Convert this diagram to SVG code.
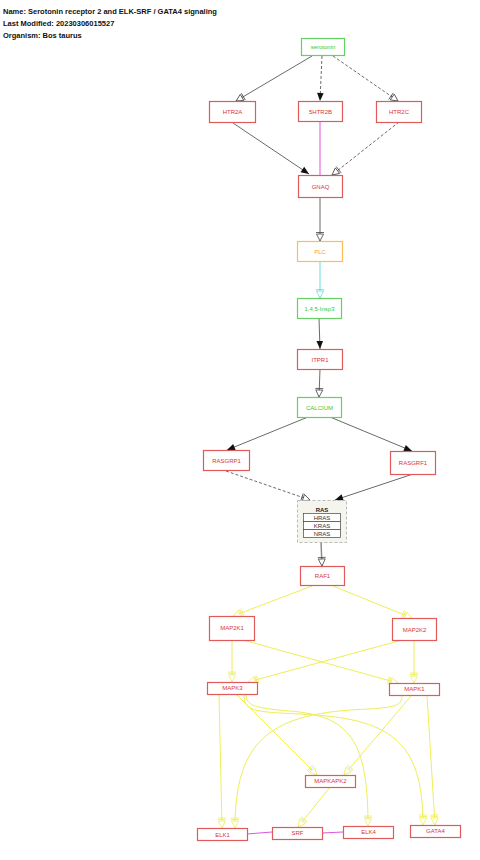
<svg xmlns="http://www.w3.org/2000/svg" width="480" height="860" viewBox="0 0 480 860">
<style>
.t{font-family:"Liberation Sans",Arial,sans-serif;font-size:6px;text-anchor:middle;dominant-baseline:central}
.h{font-family:"Liberation Sans",Arial,sans-serif;font-size:7.5px;font-weight:bold;fill:#111}
.nr{fill:#fff;stroke:#e05a5a;stroke-width:1.2}
.tr{fill:#dd3333}
.ng{fill:#fff;stroke:#66d066;stroke-width:1.2}
.tg{fill:#33cc33}
.no{fill:#fff;stroke:#ffbb55;stroke-width:1.2}
.to{fill:#ff9933}
.e{fill:none;stroke:#444;stroke-width:0.8}
.d{stroke-dasharray:3,2}
.y{fill:none;stroke:#eeee55;stroke-width:1}
.m{fill:none;stroke:#dd55dd;stroke-width:1}
.c{fill:none;stroke:#66dddd;stroke-width:1}
</style>
<defs>
<marker id="ob" markerUnits="userSpaceOnUse" markerWidth="13" markerHeight="10" refX="11" refY="5" orient="auto" overflow="visible">
<path d="M4,1.5 L11,5 L4,8.5 Z" fill="#fff" stroke="#444" stroke-width="0.8"/>
<path d="M2.5,1 L2.5,9" stroke="#444" stroke-width="0.8"/>
</marker>
<marker id="oy" markerUnits="userSpaceOnUse" markerWidth="13" markerHeight="10" refX="11" refY="5" orient="auto" overflow="visible">
<path d="M4,1.5 L11,5 L4,8.5 Z" fill="#fff" stroke="#eeee55" stroke-width="0.8"/>
<path d="M2.5,1 L2.5,9 M1,1 L1,9" stroke="#eeee55" stroke-width="0.8"/>
</marker>
<marker id="oc" markerUnits="userSpaceOnUse" markerWidth="13" markerHeight="10" refX="11" refY="5" orient="auto" overflow="visible">
<path d="M4,1.5 L11,5 L4,8.5 Z" fill="#fff" stroke="#66dddd" stroke-width="0.8"/>
<path d="M2.5,1 L2.5,9" stroke="#66dddd" stroke-width="0.8"/>
</marker>
<marker id="fa" markerUnits="userSpaceOnUse" markerWidth="10" markerHeight="8" refX="8" refY="4" orient="auto" overflow="visible">
<path d="M0,0.7 L8,4 L0,7.3 Z" fill="#111"/>
</marker>
</defs>
<text class="h" x="3" y="14">Name: Serotonin receptor 2 and ELK-SRF / GATA4 signaling</text>
<text class="h" x="3" y="26">Last Modified: 20230306015527</text>
<text class="h" x="3" y="38">Organism: Bos taurus</text>
<g id="connectors">
<path class="e" d="M312,56 L236,101" marker-end="url(#ob)"/>
<path class="e d" d="M322,56 L320,101" marker-end="url(#fa)"/>
<path class="e d" d="M333,56 L398,101" marker-end="url(#ob)"/>
<path class="e" d="M233,123 L309,174" marker-end="url(#fa)"/>
<path class="m" d="M320,121 L320,175"/>
<path class="e d" d="M399,122 L332,175" marker-end="url(#ob)"/>
<path class="e" d="M320,197 L320,241" marker-end="url(#ob)"/>
<path class="c" d="M320,261 L320,298" marker-end="url(#oc)"/>
<path class="e" d="M319,318 L320,349" marker-end="url(#fa)"/>
<path class="e" d="M320,369 L319,397" marker-end="url(#ob)"/>
<path class="e" d="M308,417 L227,450" marker-end="url(#fa)"/>
<path class="e" d="M330,417 L412,451" marker-end="url(#fa)"/>
<path class="e d" d="M226,471 L310,500" marker-end="url(#ob)"/>
<path class="e" d="M413,474 L335,500" marker-end="url(#fa)"/>
<path class="e" style="stroke:#888;stroke-width:1.4" d="M321,542 L322,566" marker-end="url(#ob)"/>
<path class="y" d="M312,586 L233,616" marker-end="url(#oy)"/>
<path class="y" d="M333,586 L412,618" marker-end="url(#oy)"/>
<path class="y" d="M232,640 L232,682" marker-end="url(#oy)"/>
<path class="y" d="M243,640 L398,683" marker-end="url(#oy)"/>
<path class="y" d="M402,640 L248,682" marker-end="url(#oy)"/>
<path class="y" d="M414,640 L414,683" marker-end="url(#oy)"/>
<path class="y" d="M219,694 L222,828" marker-end="url(#oy)"/>
<path class="y" d="M236,694 L317,775" marker-end="url(#oy)"/>
<path class="y" d="M246,694 C246,706 255,708 290,711 C350,716 368,740 368,826" marker-end="url(#oy)"/>
<path class="y" d="M244,694 C244,710 250,712 300,714 C390,718 423,740 423,825" marker-end="url(#oy)"/>
<path class="y" d="M402,695 C402,706 395,707 370,709 C270,712 235,740 235,828" marker-end="url(#oy)"/>
<path class="y" d="M411,696 L344,775" marker-end="url(#oy)"/>
<path class="y" d="M427,695 L435,825" marker-end="url(#oy)"/>
<path class="y" d="M330,787 L298,827" marker-end="url(#oy)"/>
<path class="m" d="M247,834 L272,832"/>
<path class="m" d="M322,833 L343,832"/>
</g>
<g id="serotonin"><rect class="ng" x="301.5" y="38.5" width="43" height="17"/><text class="t tg" x="323" y="47">serotonin</text></g>
<g id="HTR2A"><rect class="nr" x="209.5" y="101.5" width="46" height="21"/><text class="t tr" x="232.5" y="112">HTR2A</text></g>
<g id="5HTR2B"><rect class="nr" x="298.5" y="101.5" width="44" height="20"/><text class="t tr" x="320.5" y="111.5">5HTR2B</text></g>
<g id="HTR2C"><rect class="nr" x="376.5" y="101.5" width="45" height="21"/><text class="t tr" x="399" y="112">HTR2C</text></g>
<g id="GNAQ"><rect class="nr" x="298.5" y="175.5" width="44" height="22"/><text class="t tr" x="320.5" y="186.5">GNAQ</text></g>
<g id="PLC"><rect class="no" x="297.5" y="241.5" width="45" height="20"/><text class="t to" x="320" y="251.5">PLC</text></g>
<g id="Insp3"><rect class="ng" x="297.5" y="298.5" width="44" height="20"/><text class="t tg" x="319.5" y="308.5">1,4,5-Insp3</text></g>
<g id="ITPR1"><rect class="nr" x="297.5" y="349.5" width="45" height="20"/><text class="t tr" x="320" y="359.5">ITPR1</text></g>
<g id="CALCIUM"><rect class="ng" x="297.5" y="397.5" width="44" height="20"/><text class="t tg" x="319.5" y="407.5">CALCIUM</text></g>
<g id="RASGRP1"><rect class="nr" x="203.5" y="450.5" width="46" height="20"/><text class="t tr" x="226.5" y="460.5">RASGRP1</text></g>
<g id="RASGRF1"><rect class="nr" x="390.5" y="451.5" width="45" height="23"/><text class="t tr" x="413" y="463">RASGRF1</text></g>
<g id="RAS">
<rect x="297.5" y="500.5" width="49" height="42" fill="#f5f5ee" stroke="#aaa" stroke-width="0.8" stroke-dasharray="3,2"/>
<text class="t" x="322" y="509.5" style="font-weight:bold;fill:#222">RAS</text>
<rect x="303.5" y="513.5" width="37" height="8" fill="#fff" stroke="#444" stroke-width="0.7"/>
<rect x="303.5" y="521.5" width="37" height="8" fill="#fff" stroke="#444" stroke-width="0.7"/>
<rect x="303.5" y="529.5" width="37" height="8" fill="#fff" stroke="#444" stroke-width="0.7"/>
<text class="t" x="322" y="517.5" fill="#333">HRAS</text>
<text class="t" x="322" y="525.5" fill="#333">KRAS</text>
<text class="t" x="322" y="533.5" fill="#333">NRAS</text>
</g>
<g id="RAF1"><rect class="nr" x="300.5" y="566.5" width="44" height="19"/><text class="t tr" x="322.5" y="576">RAF1</text></g>
<g id="MAP2K1"><rect class="nr" x="209.5" y="616.5" width="45" height="24"/><text class="t tr" x="232" y="628">MAP2K1</text></g>
<g id="MAP2K2"><rect class="nr" x="392.5" y="618.5" width="44" height="22"/><text class="t tr" x="414.5" y="629.5">MAP2K2</text></g>
<g id="MAPK3"><rect class="nr" x="207.5" y="682.5" width="50" height="12"/><text class="t tr" x="232.5" y="688">MAPK3</text></g>
<g id="MAPK1"><rect class="nr" x="389.5" y="683.5" width="50" height="12"/><text class="t tr" x="414.5" y="689">MAPK1</text></g>
<g id="MAPKAPK2"><rect class="nr" x="305.5" y="775.5" width="50" height="12"/><text class="t tr" x="330.5" y="781">MAPKAPK2</text></g>
<g id="ELK1"><rect class="nr" x="197.5" y="828.5" width="50" height="12"/><text class="t tr" x="222.5" y="834.5">ELK1</text></g>
<g id="SRF"><rect class="nr" x="272.5" y="827.5" width="50" height="12"/><text class="t tr" x="297.5" y="833">SRF</text></g>
<g id="ELK4"><rect class="nr" x="343.5" y="826.5" width="50" height="12"/><text class="t tr" x="368.5" y="832">ELK4</text></g>
<g id="GATA4"><rect class="nr" x="410.5" y="825.5" width="50" height="12"/><text class="t tr" x="435.5" y="831">GATA4</text></g>
</svg>
